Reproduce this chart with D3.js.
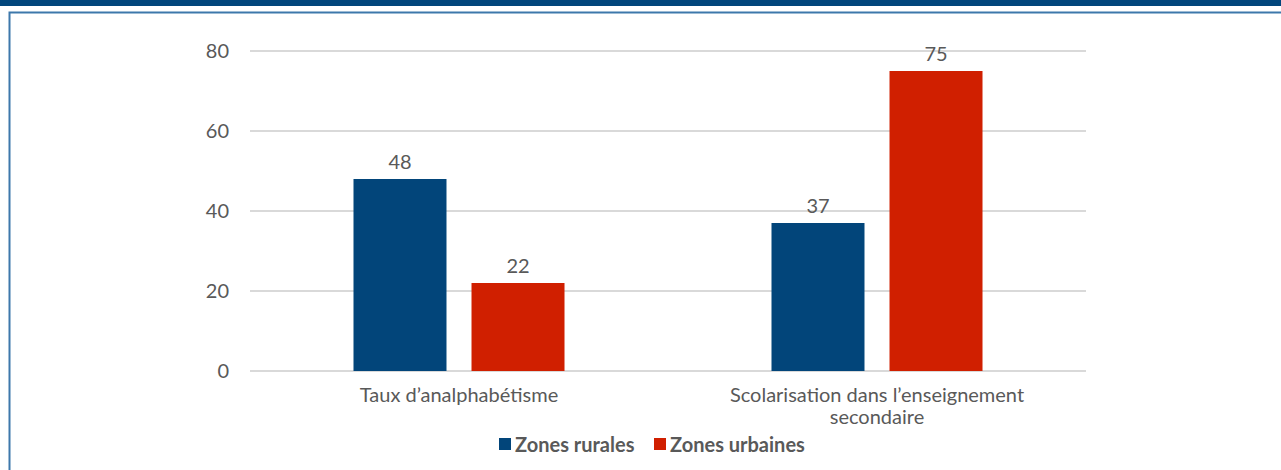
<!DOCTYPE html>
<html>
<head>
<meta charset="utf-8">
<script src="https://cdn.jsdelivr.net/npm/d3@7"></script>
<style>
  html, body { margin: 0; padding: 0; background: #fff; }
  svg { display: block; }
  text { font-family: Lato, "Open Sans", sans-serif; fill: #595959; }
</style>
</head>
<body>
<svg id="chart" width="1281" height="470"></svg>
<script>
const categories = [["Taux d\u2019analphab\u00e9tisme"], ["Scolarisation dans l\u2019enseignement", "secondaire"]];
const seriesNames = ["Zones rurales", "Zones urbaines"];
const rurales = [48, 37];
const urbaines = [22, 75];
const yTicks = [0, 20, 40, 60, 80];
const colors = ["#02457a", "#d01f00"];

const svg = d3.select("#chart");
const W = 1281, H = 470;
const FS = "20px";

// header band and frame
svg.append("rect").attr("x", 0).attr("y", 0).attr("width", W).attr("height", 6).attr("fill", "#02467c");
svg.append("path").attr("d", `M9.5,${H} V12.5 H${W}`).attr("fill", "none").attr("stroke", "#3d78ab").attr("stroke-width", 2);

const mLeft = 250, mRight = 1086, mTop = 51, mBottom = 371;
const x0 = d3.scaleBand().domain(d3.range(categories.length)).range([mLeft, mRight]).paddingInner(0).paddingOuter(0);
const x1 = d3.scaleBand().domain([0, 1]).range([0, x0.bandwidth()]).paddingInner(0.212).paddingOuter(0.877);
const y = d3.scaleLinear().domain([0, 80]).range([mBottom, mTop]);

// grid
svg.append("g").selectAll("line").data(yTicks).join("line")
  .attr("x1", mLeft).attr("x2", mRight)
  .attr("y1", d => y(d)).attr("y2", d => y(d))
  .attr("stroke", "#d9d9d9").attr("stroke-width", 2);

// y axis labels
const yAxis = d3.axisLeft(y).tickValues(yTicks).tickSize(0).tickPadding(21);
const ga = svg.append("g").attr("transform", `translate(${mLeft},0)`).call(yAxis);
ga.select(".domain").remove();
ga.selectAll("text").style("font-size", FS).attr("fill", "#595959").style("font-family", "Lato, 'Open Sans', sans-serif");

const data = categories.map((c, i) => ({ i, vals: [rurales[i], urbaines[i]] }));
const groups = svg.append("g").selectAll("g").data(data).join("g")
  .attr("transform", d => `translate(${x0(d.i)},0)`);
groups.selectAll("rect").data(d => d.vals.map((v, s) => ({ v, s }))).join("rect")
  .attr("x", d => x1(d.s)).attr("width", x1.bandwidth())
  .attr("y", d => y(d.v)).attr("height", d => y(0) - y(d.v))
  .attr("fill", d => colors[d.s]);
groups.selectAll("text.val").data(d => d.vals.map((v, s) => ({ v, s }))).join("text")
  .attr("class", "val")
  .attr("x", d => x1(d.s) + x1.bandwidth() / 2)
  .attr("y", d => y(d.v) - 10)
  .attr("text-anchor", "middle").style("font-size", FS)
  .text(d => d.v);

// category labels
const cat = svg.append("g").selectAll("text").data(categories).join("text")
  .attr("x", (d, i) => x0(i) + x0.bandwidth() / 2)
  .attr("y", 402)
  .attr("text-anchor", "middle").style("font-size", FS);
cat.selectAll("tspan").data(d => d).join("tspan")
  .attr("x", function() { return this.parentNode.getAttribute("x"); })
  .attr("dy", (d, j) => j === 0 ? 0 : 22)
  .text(d => d);

// legend
const legend = svg.append("g");
const lx = [499, 654];
seriesNames.forEach((n, i) => {
  legend.append("rect").attr("x", lx[i]).attr("y", 438).attr("width", 12).attr("height", 12).attr("fill", colors[i]);
  legend.append("text").attr("x", lx[i] + 16).attr("y", 452)
    .style("font-size", FS).style("font-weight", "bold").text(n);
});
</script>
</body>
</html>
